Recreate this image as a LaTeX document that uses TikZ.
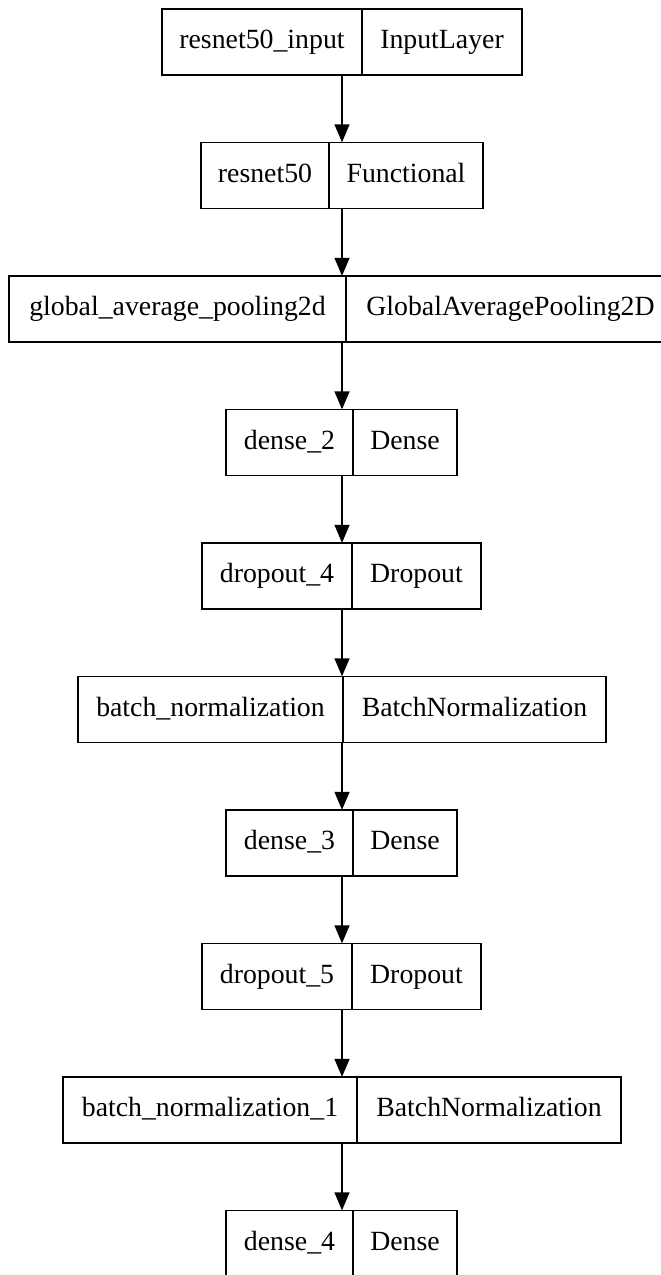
\documentclass[tikz,border=0pt]{standalone}
\usepackage{fontspec}
\setmainfont{Liberation Serif}
\usetikzlibrary{arrows.meta}
\tikzset{
  cell/.style={draw=black, line width=1.4, minimum height=66, inner sep=0, text height=19, text depth=6, font=\fontsize{27.8}{33}\selectfont},
  record/.style={minimum height=66, inner sep=0},
  edge/.style={-{Triangle[length=18, width=15]}, black, line width=1.4}
}
\begin{document}
\begin{tikzpicture}[x=1pt, y=-1pt]
\useasboundingbox (0,0) rectangle (661,1275);
\node[record, minimum width=360] (inp) at (342, 42) {};
\node[cell, minimum width=200] (inpL) at (262, 42) {resnet50\_input};
\node[cell, minimum width=160] (inpR) at (442, 42) {InputLayer};
\node[record, minimum width=282] (res) at (342, 175.5) {};
\node[cell, minimum width=128] (resL) at (265, 175.5) {resnet50};
\node[cell, minimum width=154] (resR) at (406, 175.5) {Functional};
\node[record, minimum width=666] (gap) at (342, 309) {};
\node[cell, minimum width=337] (gapL) at (177.5, 309) {global\_average\_pooling2d};
\node[cell, minimum width=329] (gapR) at (510.5, 309) {GlobalAveragePooling2D};
\node[record, minimum width=231] (dtwo) at (342, 442.5) {};
\node[cell, minimum width=127] (dtwoL) at (289.5, 442.5) {dense\_2};
\node[cell, minimum width=104] (dtwoR) at (405, 442.5) {Dense};
\node[record, minimum width=279] (dofour) at (342, 576) {};
\node[cell, minimum width=150] (dofourL) at (277, 576) {dropout\_4};
\node[cell, minimum width=129] (dofourR) at (416.5, 576) {Dropout};
\node[record, minimum width=528] (bn) at (342, 709.5) {};
\node[cell, minimum width=265] (bnL) at (210.5, 709.5) {batch\_normalization};
\node[cell, minimum width=263] (bnR) at (474.5, 709.5) {BatchNormalization};
\node[record, minimum width=231] (dthree) at (342, 843) {};
\node[cell, minimum width=127] (dthreeL) at (289.5, 843) {dense\_3};
\node[cell, minimum width=104] (dthreeR) at (405, 843) {Dense};
\node[record, minimum width=279] (dofive) at (342, 976.5) {};
\node[cell, minimum width=150] (dofiveL) at (277, 976.5) {dropout\_5};
\node[cell, minimum width=129] (dofiveR) at (416.5, 976.5) {Dropout};
\node[record, minimum width=558] (bnone) at (342, 1110) {};
\node[cell, minimum width=294] (bnoneL) at (210, 1110) {batch\_normalization\_1};
\node[cell, minimum width=264] (bnoneR) at (489, 1110) {BatchNormalization};
\node[record, minimum width=231] (dfour) at (342, 1243.5) {};
\node[cell, minimum width=127] (dfourL) at (289.5, 1243.5) {dense\_4};
\node[cell, minimum width=104] (dfourR) at (405, 1243.5) {Dense};
\draw[edge] (inp.south) -- (res.north);
\draw[edge] (res.south) -- (gap.north);
\draw[edge] (gap.south) -- (dtwo.north);
\draw[edge] (dtwo.south) -- (dofour.north);
\draw[edge] (dofour.south) -- (bn.north);
\draw[edge] (bn.south) -- (dthree.north);
\draw[edge] (dthree.south) -- (dofive.north);
\draw[edge] (dofive.south) -- (bnone.north);
\draw[edge] (bnone.south) -- (dfour.north);
\end{tikzpicture}
\end{document}
